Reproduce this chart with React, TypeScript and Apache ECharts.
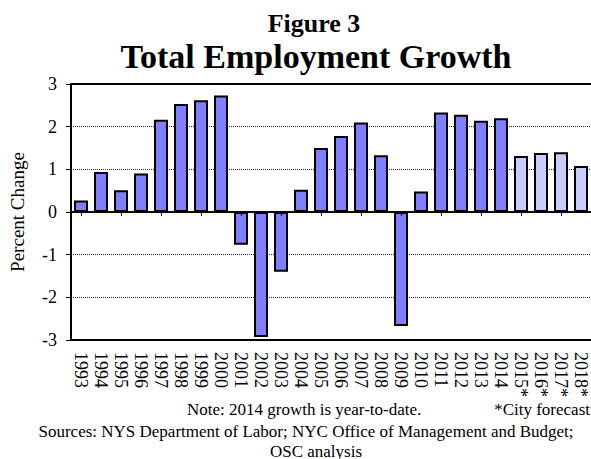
import React, { useEffect, useRef } from "react";
import * as echarts from "echarts";

const years = [
  "1993", "1994", "1995", "1996", "1997", "1998", "1999", "2000", "2001",
  "2002", "2003", "2004", "2005", "2006", "2007", "2008", "2009", "2010",
  "2011", "2012", "2013", "2014", "2015*", "2016*", "2017*", "2018*",
];
const growth = [
  0.27, 0.94, 0.51, 0.9, 2.16, 2.53, 2.62, 2.73, -0.77, -2.93, -1.4, 0.52,
  1.5, 1.78, 2.1, 1.33, -2.67, 0.48, 2.33, 2.28, 2.14, 2.2, 1.31, 1.38, 1.4,
  1.08,
];
const yTicks = [-3, -2, -1, 0, 1, 2, 3];
const titleTop = "Figure 3";
const titleMain = "Total Employment Growth";
const yName = "Percent Change";
const note = "Note: 2014 growth is year-to-date.";
const forecastNote = "*City forecast";
const sources1 = "Sources: NYS Department of Labor; NYC Office of Management and Budget;";
const sources2 = "OSC analysis";

const SERIF = "Liberation Serif";

export default function App() {
  const ref = useRef<HTMLDivElement>(null);
  useEffect(() => {
    if (!ref.current) return;
    const chart = echarts.init(ref.current, null, { renderer: "svg" });
    const data = growth.map((v, i) => ({
      value: v,
      itemStyle: {
        color: years[i].endsWith("*") ? "#C8CCFF" : "#8080FF",
      },
    }));
    const txt = (text: string, x: number, y: number, font: string, align = "left") => ({
      type: "text",
      x,
      y,
      style: { text, font, fill: "#000", textAlign: align, textVerticalAlign: "middle" },
    });
    chart.setOption({
      animation: false,
      backgroundColor: "#ffffff",
      textStyle: { fontFamily: "serif", color: "#000" },
      grid: { left: 69, top: 84, width: 523, height: 256, containLabel: false },
      xAxis: [
        {
          type: "category",
          data: years,
          position: "bottom",
          axisLine: { onZero: true, lineStyle: { color: "#000", width: 2 } },
          axisTick: { show: true, alignWithLabel: true, length: 4, lineStyle: { color: "#000", width: 1 } },
          axisLabel: { show: false },
          splitLine: { show: false },
          z: 5,
        },
        {
          type: "category",
          data: years,
          position: "bottom",
          axisLine: { onZero: false, lineStyle: { color: "#000", width: 2 } },
          axisTick: { show: false },
          axisLabel: {
            show: true,
            rotate: -90,
            interval: 0,
            margin: 12,
            fontSize: 18,
            fontFamily: "serif",
            color: "#000",
          },
        },
        {
          type: "category",
          data: years,
          position: "top",
          axisLine: { onZero: false, lineStyle: { color: "#000", width: 2 } },
          axisTick: { show: false },
          axisLabel: { show: false },
        },
      ],
      yAxis: {
        type: "value",
        min: yTicks[0],
        max: yTicks[yTicks.length - 1],
        interval: 1,
        name: yName,
        nameLocation: "middle",
        nameGap: 44,
        nameRotate: 90,
        nameTextStyle: { fontFamily: SERIF, fontSize: 19, color: "#000" },
        axisLine: { show: true, lineStyle: { color: "#000", width: 2 } },
        axisTick: { show: true, length: 5, lineStyle: { color: "#000", width: 1 } },
        axisLabel: {
          fontSize: 18,
          fontFamily: "Times New Roman",
          color: "#000",
          margin: 14,
        },
        splitLine: {
          show: true,
          lineStyle: { color: "#333", type: [1, 1], width: 1 },
        },
      },
      series: [
        {
          type: "bar",
          xAxisIndex: 0,
          data,
          barWidth: 14,
          itemStyle: { borderColor: "#000", borderWidth: 2 },
          z: 3,
        },
      ],
      graphic: [
        txt(titleTop, 314, 23, `bold 26px ${SERIF}`, "center"),
        txt(titleMain, 316, 56, `bold 34px ${SERIF}`, "center"),
        txt(note, 187, 409, `17px ${SERIF}`),
        txt(forecastNote, 590, 409, `17px ${SERIF}`, "right"),
        txt(sources1, 306, 431, `17px ${SERIF}`, "center"),
        txt(sources2, 316, 451, `17px ${SERIF}`, "center"),
      ],
    });
    return () => chart.dispose();
  }, []);
  return (
    <div
      ref={ref}
      style={{ position: "fixed", left: 0, top: 0, width: 591, height: 459 }}
    />
  );
}
